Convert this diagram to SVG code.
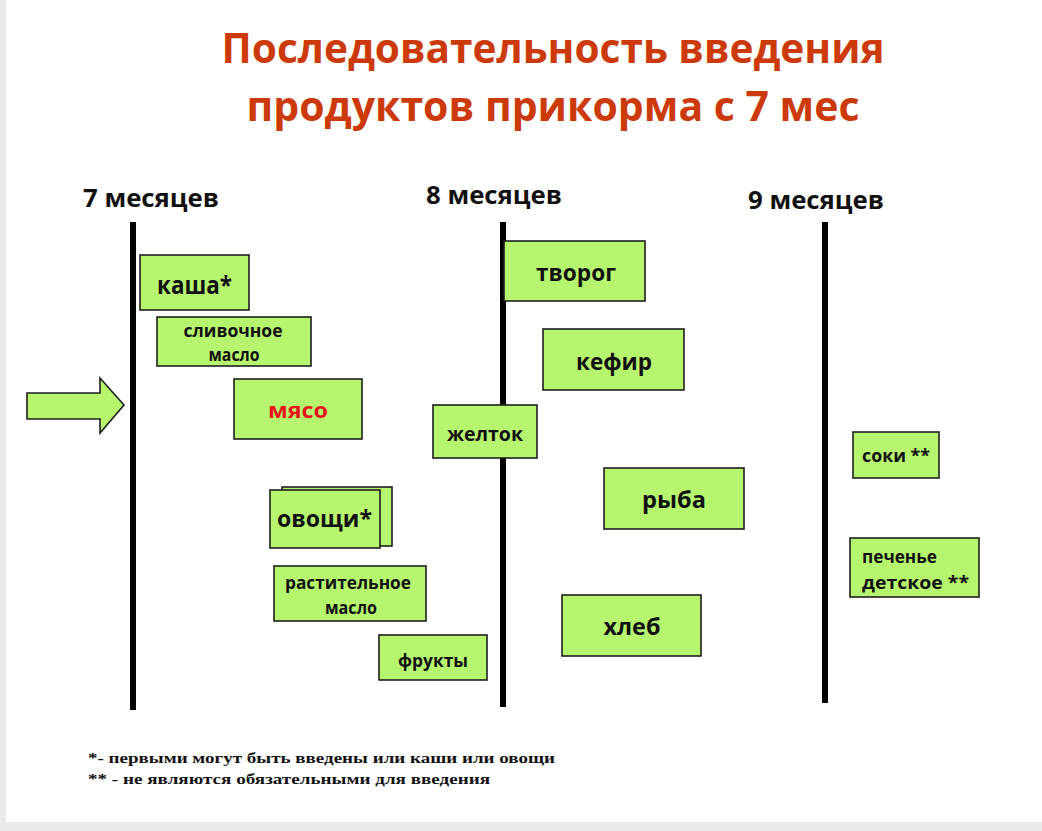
<svg xmlns="http://www.w3.org/2000/svg" width="1042" height="831" viewBox="0 0 1042 831">
<style>
.t{font-family:"Open Sans","Noto Sans","Liberation Sans",sans-serif;font-weight:700;fill:#111}
.title{font-family:"Open Sans","Noto Sans","Liberation Sans",sans-serif;font-weight:700;fill:#cc3a0a;font-size:42px}
.box{fill:#b6f56e;stroke:#1e1e1e;stroke-width:1.6}
.axis{stroke:#000;stroke-width:6}
.fn{font-family:"Liberation Serif","Times New Roman",serif;font-weight:700;font-size:15px;fill:#111}
</style>
<rect x="0" y="0" width="1042" height="831" fill="#e9e9ee"/>
<rect x="6" y="0" width="1036" height="822" fill="#ffffff"/>
<g id="title">
<text class="title" x="553" y="63" text-anchor="middle" textLength="663" lengthAdjust="spacingAndGlyphs">Последовательность введения</text>
<text class="title" x="553" y="121" text-anchor="middle" textLength="613" lengthAdjust="spacingAndGlyphs">продуктов прикорма с 7 мес</text>
</g>
<g id="connectors">
<line class="axis" x1="133" y1="222" x2="133" y2="710"/>
<line class="axis" x1="503" y1="222" x2="503" y2="707"/>
<line class="axis" x1="825" y1="222" x2="825" y2="703"/>
<polygon points="27,393 100,393 100,378 124,405 100,433 100,419 27,419" fill="#b6f56e" stroke="#1e1e1e" stroke-width="1.6"/>
</g>
<g id="labels">
<text class="t" x="83" y="207" font-size="25" textLength="136" lengthAdjust="spacingAndGlyphs">7 месяцев</text>
<text class="t" x="426" y="204" font-size="25" textLength="136" lengthAdjust="spacingAndGlyphs">8 месяцев</text>
<text class="t" x="748" y="209" font-size="25" textLength="136" lengthAdjust="spacingAndGlyphs">9 месяцев</text>
</g>
<g id="kasha"><rect class="box" x="140" y="255" width="109" height="55"/>
<text class="t" x="194.5" y="294" font-size="25" text-anchor="middle" textLength="75" lengthAdjust="spacingAndGlyphs">каша*</text></g>
<g id="slivochnoe"><rect class="box" x="157" y="317" width="154" height="49"/>
<text class="t" x="233" y="337" font-size="18" text-anchor="middle" textLength="99" lengthAdjust="spacingAndGlyphs">сливочное</text>
<text class="t" x="234" y="361" font-size="18" text-anchor="middle" textLength="51" lengthAdjust="spacingAndGlyphs">масло</text></g>
<g id="myaso"><rect class="box" x="234" y="379" width="128" height="60"/>
<text class="t" x="298" y="418" font-size="22" text-anchor="middle" fill="#e8141c" style="fill:#e8141c" textLength="60" lengthAdjust="spacingAndGlyphs">мясо</text></g>
<g id="ovoshchi"><rect class="box" x="282" y="487" width="110" height="59"/>
<rect class="box" x="270" y="490" width="110" height="58"/>
<text class="t" x="324.5" y="527" font-size="23" text-anchor="middle" textLength="95" lengthAdjust="spacingAndGlyphs">овощи*</text></g>
<g id="rastitelnoe"><rect class="box" x="274" y="566" width="152" height="55"/>
<text class="t" x="348" y="589" font-size="18" text-anchor="middle" textLength="126" lengthAdjust="spacingAndGlyphs">растительное</text>
<text class="t" x="351" y="614" font-size="18" text-anchor="middle" textLength="52" lengthAdjust="spacingAndGlyphs">масло</text></g>
<g id="frukty"><rect class="box" x="379" y="635" width="108" height="45"/>
<text class="t" x="433" y="667" font-size="18" text-anchor="middle" textLength="70" lengthAdjust="spacingAndGlyphs">фрукты</text></g>
<g id="tvorog"><rect class="box" x="504" y="241" width="141" height="60"/>
<text class="t" x="576" y="281" font-size="23" text-anchor="middle" textLength="80" lengthAdjust="spacingAndGlyphs">творог</text></g>
<g id="kefir"><rect class="box" x="543" y="329" width="141" height="61"/>
<text class="t" x="614" y="370" font-size="23" text-anchor="middle" textLength="76" lengthAdjust="spacingAndGlyphs">кефир</text></g>
<g id="zheltok"><rect class="box" x="433" y="405" width="104" height="53"/>
<text class="t" x="485" y="441" font-size="20" text-anchor="middle" textLength="76" lengthAdjust="spacingAndGlyphs">желток</text></g>
<g id="ryba"><rect class="box" x="604" y="468" width="140" height="61"/>
<text class="t" x="674" y="508" font-size="23" text-anchor="middle" textLength="64" lengthAdjust="spacingAndGlyphs">рыба</text></g>
<g id="hleb"><rect class="box" x="562" y="595" width="139" height="61"/>
<text class="t" x="632" y="635" font-size="23" text-anchor="middle" textLength="57" lengthAdjust="spacingAndGlyphs">хлеб</text></g>
<g id="soki"><rect class="box" x="853" y="432" width="86" height="46"/>
<text class="t" x="862" y="462" font-size="17" textLength="68" lengthAdjust="spacingAndGlyphs">соки **</text></g>
<g id="pechenye"><rect class="box" x="850" y="538" width="129" height="59"/>
<text class="t" x="862" y="563" font-size="17" textLength="75" lengthAdjust="spacingAndGlyphs">печенье</text>
<text class="t" x="862" y="589" font-size="17" textLength="107" lengthAdjust="spacingAndGlyphs">детское **</text></g>
<g id="footnotes">
<text class="fn" x="88" y="763" textLength="467" lengthAdjust="spacingAndGlyphs">*- первыми могут быть введены или каши или овощи</text>
<text class="fn" x="88" y="784" textLength="402" lengthAdjust="spacingAndGlyphs">** - не являются обязательными для введения</text>
</g>
</svg>
